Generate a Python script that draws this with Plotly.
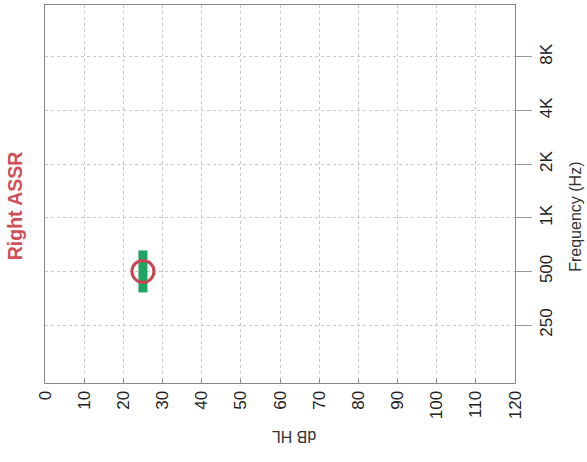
import plotly.graph_objects as go

# Data
freq_ticks = [250, 500, 1000, 2000, 4000, 8000]
freq_labels = ["250", "500", "1K", "2K", "4K", "8K"]
db_ticks = list(range(0, 130, 10))

assr_freq = [500]
assr_db = [25]

fig = go.Figure()

# green bar marker (response range)
fig.add_trace(go.Scatter(
    x=assr_db, y=assr_freq, mode="markers",
    marker=dict(symbol="line-ns-open", size=30, color="#1fa463",
                line=dict(color="#1fa463", width=9)),
    showlegend=False, hoverinfo="skip"))

# red circle
fig.add_trace(go.Scatter(
    x=assr_db, y=assr_freq, mode="markers",
    marker=dict(symbol="circle-open", size=22, color="#c8474f",
                line=dict(color="#c8474f", width=3)),
    showlegend=False))

font = "Liberation Sans, Arial, sans-serif"

fig.update_layout(
    width=587, height=462,
    margin=dict(l=45, r=72, t=5, b=79),
    paper_bgcolor="white", plot_bgcolor="white",
    font=dict(family=font, color="#333333"),
    xaxis=dict(
        range=[0, 120], tickvals=db_ticks, ticktext=[str(v) for v in db_ticks],
        tickangle=-90, tickfont=dict(size=17, color="#222222"),
        showgrid=True, gridcolor="#c8c8c8", griddash="dot", gridwidth=1,
        showline=True, linecolor="#888888", linewidth=1, mirror=True,
        ticks="inside", ticklen=4, tickcolor="#888888",
        zeroline=False,
    ),
    yaxis=dict(
        type="log", side="right",
        range=[2.073, 4.194],
        tickvals=freq_ticks, ticktext=freq_labels,
        tickangle=-90, tickfont=dict(size=17, color="#222222"),
        showgrid=True, gridcolor="#c8c8c8", griddash="dot", gridwidth=1,
        showline=True, linecolor="#888888", linewidth=1, mirror=True,
        ticks="outside", ticklen=16, tickcolor="#999999",
        zeroline=False,
    ),
    annotations=[
        dict(text="dB HL", textangle=180, xref="paper", yref="paper",
             x=0.53, y=-0.14, yanchor="middle", xanchor="center", showarrow=False,
             font=dict(size=16, color="#333333", family=font)),
        dict(text="Frequency (Hz)", textangle=-90, xref="paper", yref="paper",
             x=1.13, y=0.44, yanchor="middle", xanchor="center", showarrow=False,
             font=dict(size=16, color="#333333", family=font)),
        dict(text="<b>Right ASSR</b>", textangle=-90, xref="paper", yref="paper",
             x=-0.064, y=0.47, xanchor="center", yanchor="middle", showarrow=False,
             font=dict(size=19.5, color="#cf5058", family=font)),
    ],
)

fig.write_html("out.html")
